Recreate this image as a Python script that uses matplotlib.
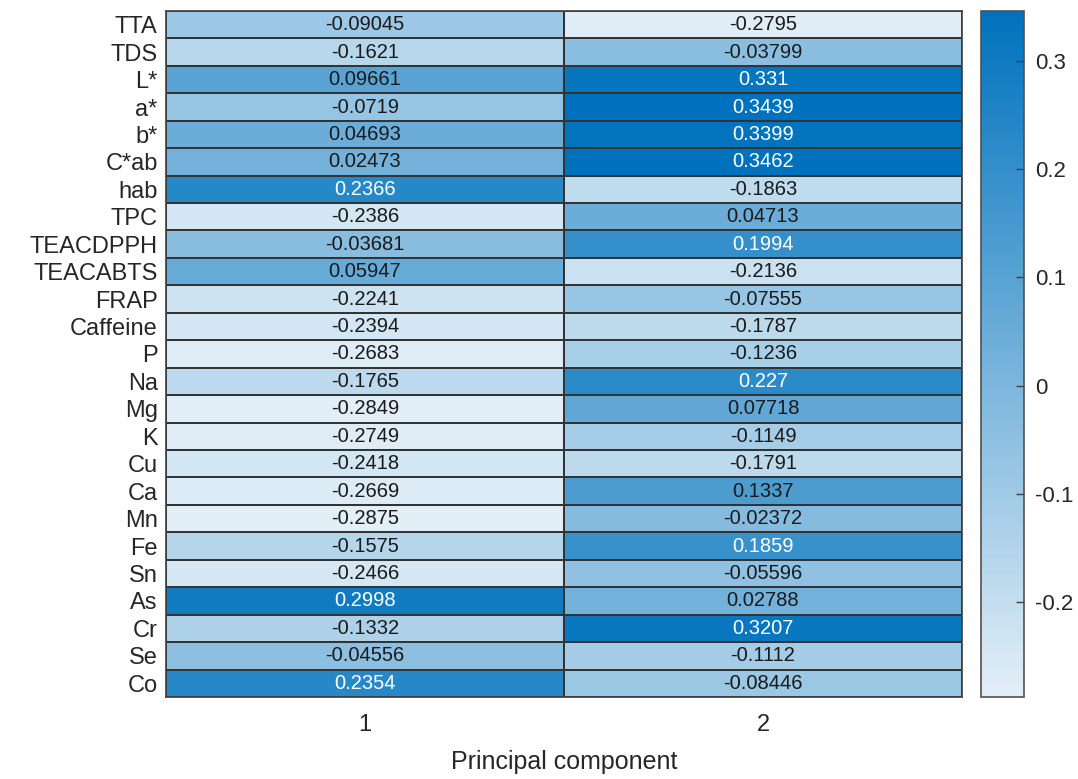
import numpy as np
import matplotlib
matplotlib.use("Agg")
import matplotlib.pyplot as plt
from matplotlib.colors import LinearSegmentedColormap, Normalize

plt.rcParams["font.family"] = ["Liberation Sans", "DejaVu Sans"]
plt.rcParams["axes.unicode_minus"] = False

variables = ["TTA", "TDS", "L*", "a*", "b*", "C*ab", "hab", "TPC", "TEACDPPH",
             "TEACABTS", "FRAP", "Caffeine", "P", "Na", "Mg", "K", "Cu", "Ca",
             "Mn", "Fe", "Sn", "As", "Cr", "Se", "Co"]
components = ["1", "2"]
pc1 = [-0.09045, -0.1621, 0.09661, -0.0719, 0.04693, 0.02473, 0.2366, -0.2386,
       -0.03681, 0.05947, -0.2241, -0.2394, -0.2683, -0.1765, -0.2849, -0.2749,
       -0.2418, -0.2669, -0.2875, -0.1575, -0.2466, 0.2998, -0.1332, -0.04556,
       0.2354]
pc2 = [-0.2795, -0.03799, 0.331, 0.3439, 0.3399, 0.3462, -0.1863, 0.04713,
       0.1994, -0.2136, -0.07555, -0.1787, -0.1236, 0.227, 0.07718, -0.1149,
       -0.1791, 0.1337, -0.02372, 0.1859, -0.05596, 0.02788, 0.3207, -0.1112,
       -0.08446]
cbar_ticks = [-0.2, -0.1, 0, 0.1, 0.2, 0.3]

data = np.column_stack([pc1, pc2])
nrows, ncols = data.shape

cmap = LinearSegmentedColormap.from_list(
    "sky", [(0.890, 0.937, 0.969), (0.0, 0.447, 0.741)])
norm = Normalize(vmin=data.min(), vmax=data.max())

fig = plt.figure(figsize=(10.78, 7.79), dpi=100)
ax = fig.add_axes([0.154, 0.1053, 0.7384, 0.8806])
cax = fig.add_axes([0.910, 0.1053, 0.0399, 0.8806])

mesh = ax.pcolormesh(np.arange(ncols + 1), np.arange(nrows + 1), data,
                     cmap=cmap, norm=norm, edgecolors="#333333", linewidth=1.2)
ax.set_xlim(0, ncols)
ax.set_ylim(nrows, 0)

for i in range(nrows):
    for j in range(ncols):
        v = data[i, j]
        r, g, b, _ = cmap(norm(v))
        lum = 0.299 * r + 0.587 * g + 0.114 * b
        color = "white" if lum < 0.5 else "#1a1a1a"
        ax.text(j + 0.5, i + 0.5, f"{v:.4g}", ha="center", va="center",
                fontsize=14.5, color=color)

ax.set_xticks(np.arange(ncols) + 0.5)
ax.set_xticklabels(components, fontsize=17, color="#262626")
ax.set_yticks(np.arange(nrows) + 0.5)
ax.set_yticklabels(variables, fontsize=17, color="#262626")
ax.tick_params(axis="both", length=0)
ax.tick_params(axis="x", pad=12)
ax.tick_params(axis="y", pad=6)
ax.set_xlabel("Principal component", fontsize=18, color="#262626", labelpad=10)
for s in ax.spines.values():
    s.set_color("#404040")
    s.set_linewidth(1.2)

cb = fig.colorbar(mesh, cax=cax)
cb.set_ticks(cbar_ticks)
cb.set_ticklabels([f"{t:g}" for t in cbar_ticks])
cax.tick_params(direction="in", length=6, width=1, color="#404040",
                labelsize=16, labelcolor="#262626", pad=8)
cb.outline.set_edgecolor("#505050")
cb.outline.set_linewidth(1.2)

fig.savefig("out.png", dpi=100)
